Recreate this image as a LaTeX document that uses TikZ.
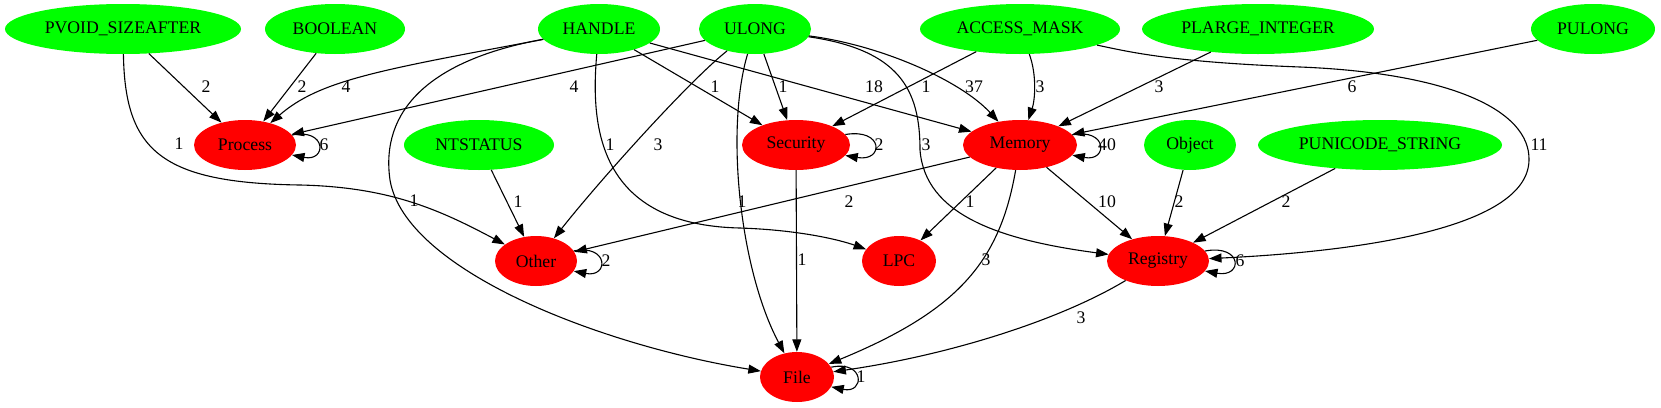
\documentclass[tikz,border=0pt]{standalone}
\usepackage{fontspec}
\setmainfont{Liberation Serif}
\usetikzlibrary{shapes.geometric,arrows.meta}
\definecolor{gvgreen}{HTML}{00FF00}
\definecolor{gvred}{HTML}{FF0000}
\newcommand{\gvfont}{\fontsize{17.7}{20}\selectfont}
\begin{document}
\begin{tikzpicture}[x=1pt,y=-1pt,
  gn/.style={ellipse, fill=gvgreen, inner sep=0pt, minimum height=50pt, font=\gvfont},
  rn/.style={ellipse, fill=gvred, inner sep=0pt, minimum height=50pt, font=\gvfont},
  edge/.style={draw, line width=1.1pt, -{Triangle[length=12.5pt,width=9pt]}},
  lbl/.style={font=\gvfont, inner sep=0pt}]
\useasboundingbox (0,0) rectangle (1661,407);
% top row
\node[gn, minimum width=236pt] (PV) at (123,29) {PVOID\_SIZEAFTER};
\node[gn, minimum width=140pt] (BO) at (335,29) {BOOLEAN};
\node[gn, minimum width=122pt] (HA) at (599,29) {HANDLE};
\node[gn, minimum width=112pt] (UL) at (755,29) {ULONG};
\node[gn, minimum width=200pt] (AM) at (1020,29) {ACCESS\_MASK};
\node[gn, minimum width=232pt] (PL) at (1258,29) {PLARGE\_INTEGER};
\node[gn, minimum width=124pt] (PU) at (1593,29) {PULONG};
% second row
\node[rn, minimum width=102pt] (Pr) at (245,145) {Process};
\node[gn, minimum width=150pt] (NT) at (479,145) {NTSTATUS};
\node[rn, minimum width=108pt] (Se) at (796,145) {Security};
\node[rn, minimum width=114pt] (Me) at (1020,145) {Memory};
\node[gn, minimum width=92pt] (Ob) at (1190,145) {Object};
\node[gn, minimum width=244pt] (PS) at (1380,145) {PUNICODE\_STRING};
% third row
\node[rn, minimum width=82pt] (Ot) at (536,261) {Other};
\node[rn, minimum width=74pt] (LP) at (899,261) {LPC};
\node[rn, minimum width=102pt] (Re) at (1158,261) {Registry};
% bottom
\node[rn, minimum width=74pt] (Fi) at (797,377) {File};

% edges
\draw[edge] (PV) -- (Pr);
\node[lbl] (l1) at (206,87) {2};
\draw[edge] (PV) .. controls (125,150) and (160,183) .. (300,185) .. controls (390,187) and (440,210) .. (Ot);
\node[lbl] (l2) at (179,144) {1};
\draw[edge] (BO) -- (Pr);
\node[lbl] (l3) at (302,87) {2};
\draw[edge] (HA) .. controls (380,70) and (320,80) .. (Pr);
\node[lbl] (l4) at (346,87) {4};
\draw[edge] (UL) -- (Pr);
\node[lbl] (l5) at (574,87) {4};
\draw[edge] (HA) .. controls (430,60) and (380,110) .. (390,180) .. controls (405,270) and (600,345) .. (Fi);
\node[lbl] (l6) at (414,201) {1};
\draw[edge] (HA) -- (Se);
\node[lbl] (l7) at (715,87) {1};
\draw[edge] (HA) -- (Me);
\node[lbl] (l8) at (874,87) {18};
\draw[edge] (HA) .. controls (590,130) and (600,225) .. (740,228) .. controls (800,230) and (840,240) .. (LP);
\node[lbl] (l9) at (610,145) {1};
\draw[edge] (UL) .. controls (690,80) and (600,180) .. (Ot);
\node[lbl] (l10) at (658,145) {3};
\draw[edge] (UL) .. controls (725,130) and (740,270) .. (Fi);
\node[lbl] (l11) at (742,202) {1};
\draw[edge] (UL) -- (Se);
\node[lbl] (l12) at (783,87) {1};
\draw[edge] (UL) .. controls (880,45) and (960,80) .. (Me);
\node[lbl] (l13) at (974,87) {37};
\draw[edge] (UL) .. controls (900,50) and (920,90) .. (920,150) .. controls (925,215) and (1000,240) .. (Re);
\node[lbl] (l14) at (926,145) {3};
\draw[edge] (AM) -- (Se);
\node[lbl] (l15) at (926,87) {1};
\draw[edge] (AM) .. controls (1037,75) and (1035,100) .. (Me);
\node[lbl] (l16) at (1040,87) {3};
\draw[edge] (AM) .. controls (1130,52) and (1170,62) .. (1300,67) .. controls (1450,73) and (1530,110) .. (1529,160) .. controls (1528,230) and (1350,252) .. (Re);
\node[lbl] (l17) at (1539,145) {11};
\draw[edge] (PL) -- (Me);
\node[lbl] (l18) at (1159,87) {3};
\draw[edge] (PU) -- (Me);
\node[lbl] (l19) at (1352,87) {6};
\draw[edge] (Pr.12) .. controls (327,128) and (327,162) .. (Pr.-12);
\node[lbl] (l20) at (324,145) {6};
\draw[edge] (NT) -- (Ot);
\node[lbl] (l21) at (518,202) {1};
\draw[edge] (Se.12) .. controls (884,128) and (884,162) .. (Se.-12);
\node[lbl] (l22) at (879,145) {2};
\draw[edge] (Se) -- (Fi);
\node[lbl] (l23) at (802,260) {1};
\draw[edge] (Me.11) .. controls (1108,128) and (1108,162) .. (Me.-11);
\node[lbl] (l24) at (1107,145) {40};
\draw[edge] (Me) -- (Ot);
\node[lbl] (l25) at (849,202) {2};
\draw[edge] (Me) -- (LP);
\node[lbl] (l26) at (970,202) {1};
\draw[edge] (Me) .. controls (1000,260) and (960,310) .. (Fi);
\node[lbl] (l27) at (986,260) {3};
\draw[edge] (Me) -- (Re);
\node[lbl] (l28) at (1107,202) {10};
\draw[edge] (Ob) -- (Re);
\node[lbl] (l29) at (1179,202) {2};
\draw[edge] (PS) -- (Re);
\node[lbl] (l30) at (1286,202) {2};
\draw[edge] (Ot.15) .. controls (609,244) and (609,278) .. (Ot.-15);
\node[lbl] (l31) at (606,261) {2};
\draw[edge] (Re.12) .. controls (1243,244) and (1243,278) .. (Re.-12);
\node[lbl] (l32) at (1240,261) {6};
\draw[edge] (Re) .. controls (1060,320) and (950,355) .. (Fi);
\node[lbl] (l33) at (1081,318) {3};
\draw[edge] (Fi.16) .. controls (865,360) and (865,394) .. (Fi.-16);
\node[lbl] (l34) at (861,377) {1};
\end{tikzpicture}
\end{document}
